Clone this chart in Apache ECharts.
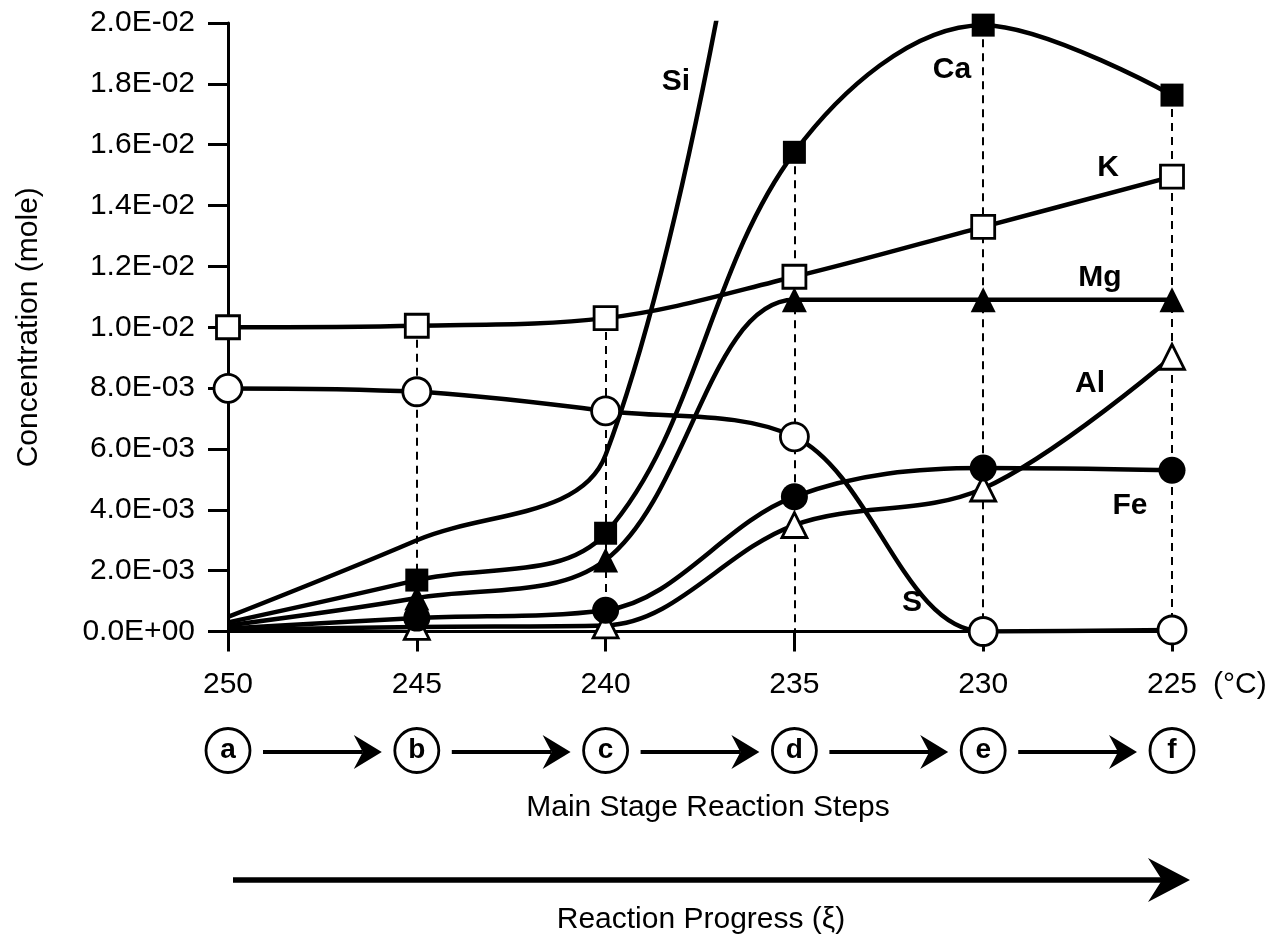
<!DOCTYPE html>
<html>
<head>
<meta charset="utf-8">
<script src="https://cdn.jsdelivr.net/npm/echarts@6/dist/echarts.min.js"></script>
<style>
	html,body{margin:0;padding:0;background:#fff;}
	#main{width:1277px;height:940px;}
</style>
</head>
<body>
<div id="main"></div>
<script>
var temps = ['250', '245', '240', '235', '230', '225'];
var steps = ['a', 'b', 'c', 'd', 'e', 'f'];
// concentrations (mole) at each temperature step
var si = [0.00048, 0.0030, 0.0058, 0.036, null, null];
var ca = [0.0003, 0.00169, 0.00323, 0.01575, 0.01993, 0.01763];
var k  = [0.0100, 0.01005, 0.0103, 0.01166, 0.0133, 0.01495];
var mg = [0.0002, 0.0011, 0.00235, 0.0109, 0.0109, 0.0109];
var s  = [0.00799, 0.00788, 0.00725, 0.0064, 0.0, 0.00005];
var fe = [0.0001, 0.00044, 0.0007, 0.00443, 0.00537, 0.0053];
var al = [0.00005, 0.00015, 0.0002, 0.0035, 0.0047, 0.00903];

var FONT = "'Liberation Sans', Arial, Helvetica, sans-serif";

function sciLabel(v){
	var str = Number(v).toExponential(1).split('e');
	var e = parseInt(str[1], 10);
	return str[0] + 'E' + (e < 0 ? '-' : '+') + ('0' + Math.abs(e)).slice(-2);
}

// noFirst: the 250 point has no marker in the original
function lineSeries(name, data, symbol, size, filled, noFirst){
	var pts = data.map(function(v, idx){
		return (noFirst && idx == 0) ? {value: v, symbol: 'none'} : v;
	});
	return {
		name: name,
		type: 'line',
		data: pts,
		smooth: 0.35,
		z: 3,
		symbol: symbol,
		symbolSize: size,
		showSymbol: symbol != 'none',
		lineStyle: {color: '#000', width: 4.5},
		itemStyle: filled ? {color: '#000', borderColor: '#000', borderWidth: 0} : {color: '#fff', borderColor: '#000', borderWidth: 2.8},
		emphasis: {disabled: true},
		silent: true
	};
}

// dashed guides from the highest marker down to zero
var guides = [];
for(var i = 1; i < temps.length; i++){
	var peak = Math.max(ca[i], k[i], mg[i], s[i], fe[i], al[i]);
	guides.push([{coord: [i, peak]}, {coord: [i, 0]}]);
}

var myChart = echarts.init(document.getElementById('main'));
myChart.setOption({
	animation: false,
	backgroundColor: '#fff',
	grid: {left: 228, right: 105, top: 23, bottom: 308.5, containLabel: false},
	xAxis: [{
		type: 'category',
		data: temps,
		boundaryGap: false,
		name: '(°C)',
		nameLocation: 'end',
		nameGap: 41,
		nameTextStyle: {color: '#000', fontFamily: FONT, fontSize: 30, lineHeight: 30, verticalAlign: 'top', padding: [38, 0, 0, 0]},
		axisLine: {lineStyle: {color: '#000', width: 3}},
		axisTick: {show: true, length: 20, lineStyle: {color: '#000', width: 3}},
		axisLabel: {color: '#000', fontFamily: FONT, fontSize: 30, lineHeight: 30, margin: 38},
		splitLine: {show: false}
	}, {
		type: 'category',
		data: steps,
		boundaryGap: false,
		position: 'bottom',
		offset: 97,
		axisLine: {show: false},
		axisTick: {show: false},
		axisLabel: {
			color: '#000', fontFamily: FONT, fontSize: 28, fontWeight: 'bold',
			width: 44, height: 44, lineHeight: 44, align: 'center',
			borderColor: '#000', borderWidth: 2.8, borderRadius: 24, margin: 0
		},
		splitLine: {show: false}
	}],
	yAxis: {
		type: 'value',
		min: 0,
		max: 0.02,
		interval: 0.002,
		name: 'Concentration (mole)',
		nameLocation: 'middle',
		nameGap: 184,
		nameTextStyle: {color: '#000', fontFamily: FONT, fontSize: 30},
		axisLine: {show: true, lineStyle: {color: '#000', width: 3}},
		axisTick: {show: true, length: 20, lineStyle: {color: '#000', width: 3}},
		axisLabel: {color: '#000', fontFamily: FONT, fontSize: 30, margin: 33, formatter: sciLabel},
		splitLine: {show: false}
	},
	series: [
		{
			name: 'guide',
			type: 'line',
			data: [],
			z: 1,
			silent: true,
			markLine: {
				z: 1,
				silent: true,
				symbol: ['none', 'none'],
				label: {show: false},
				lineStyle: {color: '#000', width: 2, type: [8, 6]},
				emphasis: {disabled: true},
				data: guides
			}
		},
		lineSeries('Si', si, 'none', 0, true, false),
		lineSeries('S', s, 'circle', 28, false, false),
		lineSeries('Al', al, 'triangle', 25, false, true),
		lineSeries('Fe', fe, 'circle', 27, true, true),
		lineSeries('Mg', mg, 'triangle', 25, true, true),
		lineSeries('K', k, 'rect', 23, false, false),
		lineSeries('Ca', ca, 'rect', 23, true, true)
	]
});

// series names, arrows and captions
var labelSpots = [
	['Si', 676, 82], ['Ca', 952, 70], ['K', 1108, 168], ['Mg', 1100, 278],
	['Al', 1090, 384], ['Fe', 1130, 506], ['S', 912, 603]
];
var g = [];
labelSpots.forEach(function(t){
	g.push({type: 'text', x: t[1], y: t[2], z: 10, style: {text: t[0], fill: '#000', font: 'bold 30px ' + FONT, align: 'center', verticalAlign: 'middle'}});
});

function arrow(x0, x1, y, w, hl, hh, notch){
	return {
		type: 'group',
		children: [
			{type: 'line', shape: {x1: x0, y1: y, x2: x1 - notch, y2: y}, style: {stroke: '#000', lineWidth: w}},
			{type: 'polygon', shape: {points: [[x1, y], [x1 - hl, y - hh], [x1 - notch, y], [x1 - hl, y + hh]]}, style: {fill: '#000'}}
		]
	};
}

var ay = 752;
for(var j = 0; j < steps.length - 1; j++){
	var xa = myChart.convertToPixel({xAxisIndex: 0}, j);
	var xb = myChart.convertToPixel({xAxisIndex: 0}, j + 1);
	g.push(arrow(xa + 35, xb - 35, ay, 4, 28, 17, 19));
}
var xFirst = myChart.convertToPixel({xAxisIndex: 0}, 0);
var xLast = myChart.convertToPixel({xAxisIndex: 0}, temps.length - 1);
g.push(arrow(xFirst + 5, xLast + 18, 880, 5.5, 42, 22, 28));

g.push({type: 'text', x: 708, y: 808, style: {text: 'Main Stage Reaction Steps', fill: '#000', font: '30px ' + FONT, align: 'center', verticalAlign: 'middle'}});
g.push({type: 'text', x: 701, y: 920, style: {text: 'Reaction Progress (ξ)', fill: '#000', font: '30px ' + FONT, align: 'center', verticalAlign: 'middle'}});

myChart.setOption({graphic: g});
</script>
</body>
</html>
